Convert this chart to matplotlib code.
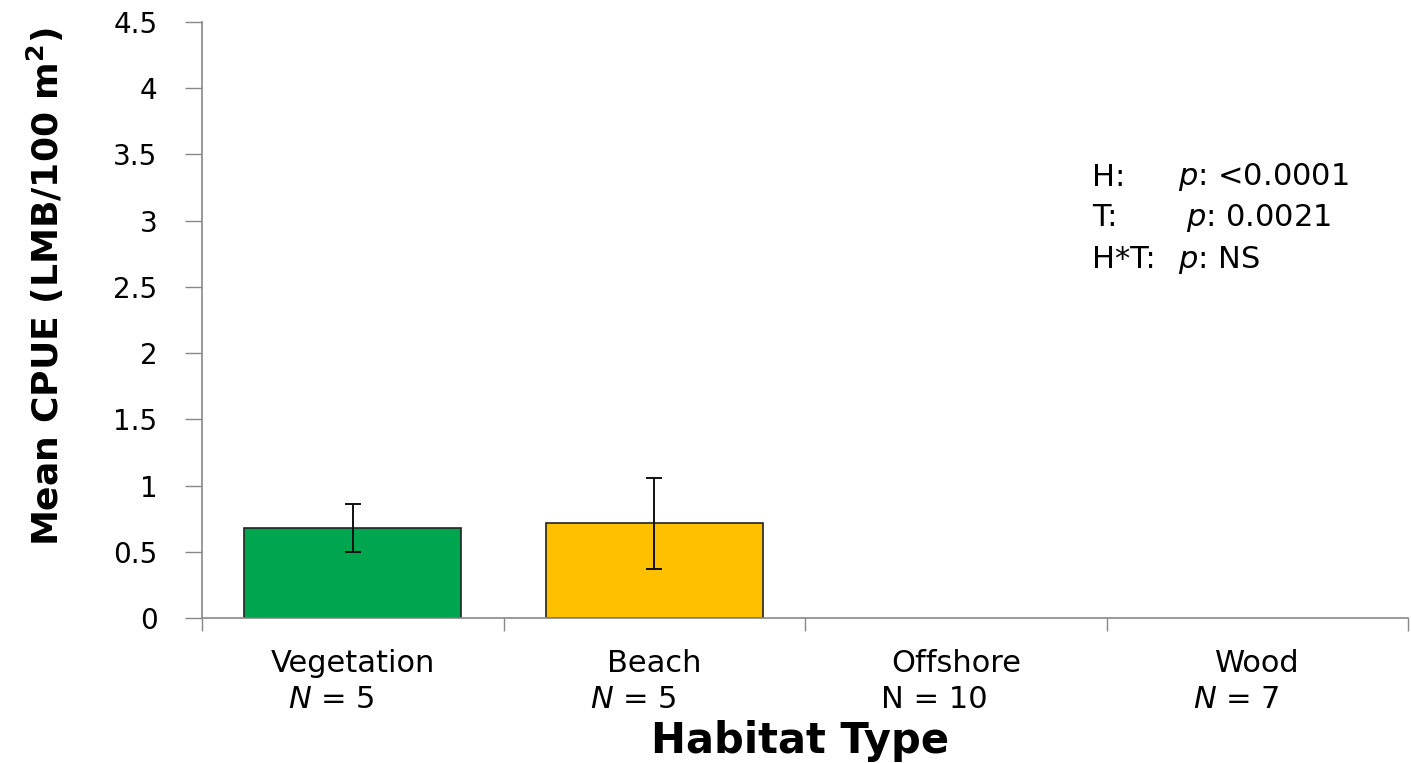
import matplotlib
matplotlib.use("Agg")
import matplotlib.pyplot as plt
import numpy as np

categories = ["Vegetation", "Beach", "Offshore", "Wood"]
n_labels = ["$N$ = 5", "$N$ = 5", "N = 10", "$N$ = 7"]
means = [0.68, 0.715, 0.0, 0.0]
errors = [0.18, 0.345, 0.0, 0.0]
colors = ["#00A64F", "#FFC000", "#FFFFFF", "#FFFFFF"]
stats_lines = ["H:", "T:", "H*T:"]
stats_vals = ["$p$: <0.0001", "$p$: 0.0021", "$p$: NS"]
ytick_labels = ["0", "0.5", "1", "1.5", "2", "2.5", "3", "3.5", "4", "4.5"]

plt.rcParams['font.family'] = ['DejaVu Sans']
plt.rcParams['mathtext.fontset'] = 'dejavusans'

W, H = 1411, 763
fig = plt.figure(figsize=(W / 100, H / 100), dpi=100)
ax = fig.add_axes([202 / W, 1 - 618 / H, 1206 / W, 596 / H])

x = np.arange(len(categories))
for i in range(len(categories)):
    if means[i] > 0:
        ax.bar(x[i], means[i], width=0.72, color=colors[i], edgecolor="#222222",
               linewidth=1.2, zorder=2)
        ax.errorbar(x[i], means[i], yerr=errors[i], fmt="none", ecolor="#111111",
                    elinewidth=1.4, capsize=6, capthick=1.4, zorder=3)

ax.set_xlim(-0.5, 3.5)
ax.set_ylim(0, 4.5)
ax.set_yticks(np.arange(0, 4.51, 0.5))
ax.set_yticklabels(ytick_labels, fontsize=20)
ax.set_xticks([-0.5, 0.5, 1.5, 2.5, 3.5])
ax.set_xticklabels([])
ax.tick_params(axis="y", direction="out", length=12, width=1, color="#888888", pad=20)
ax.tick_params(axis="x", direction="out", length=9, width=1, color="#888888")
for s in ["top", "right"]:
    ax.spines[s].set_visible(False)
for s in ["left", "bottom"]:
    ax.spines[s].set_color("#888888")
    ax.spines[s].set_linewidth(1.2)

trans = ax.get_xaxis_transform()
for i, c in enumerate(categories):
    ax.text(x[i], 1 - (663 - 22) / 596, c, ha="center", va="center", fontsize=22,
            transform=trans, clip_on=False)
    ax.text(x[i] - 0.07, 1 - (699 - 22) / 596, n_labels[i], ha="center", va="center",
            fontsize=22, transform=trans, clip_on=False)

fig.text(800 / W, 1 - 741 / H, "Habitat Type", ha="center", va="center", fontsize=30,
         fontweight="bold")
fig.text(45 / W, 1 - 287 / H, "Mean CPUE (LMB/100 m$^{\\mathbf{2}}$)", rotation=90,
         ha="center", va="center", fontsize=26, fontweight="bold")

ys = [177, 218, 260]
xs_val = [1178, 1186, 1178]
for lab, val, yy, xv in zip(stats_lines, stats_vals, ys, xs_val):
    fig.text(1092 / W, 1 - yy / H, lab, ha="left", va="center", fontsize=22)
    fig.text(xv / W, 1 - yy / H, val, ha="left", va="center", fontsize=22)

fig.savefig("out.png", dpi=100, facecolor="white")
